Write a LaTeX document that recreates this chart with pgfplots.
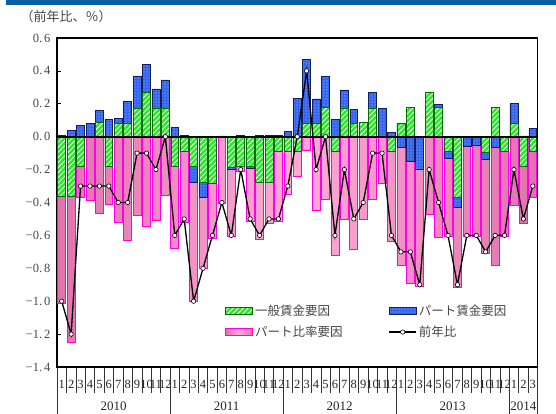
\documentclass[border=0pt]{standalone}
\usepackage{fontspec}
\setmainfont{Liberation Serif}
\newfontfamily\jp{Noto Sans CJK JP}
\usepackage{pgfplots}
\pgfplotsset{compat=1.18}
\usepackage{pgfplotstable}
\usetikzlibrary{patterns.meta}

\definecolor{gfill}{RGB}{40,230,40}
\definecolor{gedge}{RGB}{0,110,0}
\definecolor{bfill}{RGB}{50,100,240}
\definecolor{bedge}{RGB}{20,30,90}
\definecolor{pedge}{RGB}{255,0,230}
\definecolor{plight}{RGB}{255,170,215}
\definecolor{pdark}{RGB}{225,115,175}
\definecolor{band}{RGB}{10,94,168}
\definecolor{txt}{RGB}{70,70,70}

\pgfplotstableread{
i G B P L
0 -0.365 0.01 -0.65 -1.0
1 -0.365 0.04 -0.885 -1.2
2 -0.18 0.07 -0.19 -0.3
3 0.0 0.08 -0.385 -0.3
4 0.087 0.075 -0.466 -0.3
5 -0.18 0.105 -0.23 -0.3
6 0.08 0.03 -0.52 -0.4
7 0.08 0.135 -0.63 -0.4
8 0.17 0.2 -0.48 -0.1
9 0.27 0.17 -0.547 -0.1
10 0.17 0.12 -0.51 -0.2
11 0.17 0.175 -0.355 0.0
12 -0.18 0.057 -0.5 -0.6
13 -0.09 0.01 -0.43 -0.5
14 -0.18 -0.10 -0.72 -1.0
15 -0.28 -0.09 -0.43 -0.8
16 -0.285 0.0 -0.33 -0.6
17 0.0 0.005 -0.405 -0.4
18 -0.185 -0.015 -0.405 -0.6
19 -0.18 0.01 -0.03 -0.2
20 -0.18 -0.015 -0.32 -0.5
21 -0.275 0.01 -0.35 -0.6
22 -0.275 0.01 -0.25 -0.5
23 -0.09 0.01 -0.425 -0.5
24 -0.09 0.03 -0.26 -0.3
25 -0.09 0.235 -0.15 0.0
26 0.08 0.39 -0.08 0.4
27 0.08 0.15 -0.445 -0.2
28 0.18 0.185 -0.38 0.0
29 -0.09 0.105 -0.63 -0.6
30 0.17 0.115 -0.50 -0.2
31 0.08 0.087 -0.685 -0.5
32 0.085 0.0 -0.50 -0.4
33 0.17 0.097 -0.38 -0.1
34 0.0 0.17 -0.285 -0.1
35 -0.09 0.025 -0.547 -0.6
36 0.08 -0.065 -0.72 -0.7
37 0.18 -0.15 -0.74 -0.7
38 0.0 -0.2 -0.71 -0.9
39 0.27 0.0 -0.47 -0.2
40 0.18 0.018 -0.61 -0.4
41 -0.09 -0.04 -0.475 -0.6
42 -0.37 -0.06 -0.485 -0.9
43 0.0 -0.057 -0.55 -0.6
44 0.0 -0.05 -0.557 -0.6
45 -0.095 -0.04 -0.577 -0.7
46 0.18 -0.065 -0.72 -0.6
47 -0.09 0.0 -0.517 -0.6
48 0.08 0.12 -0.42 -0.2
49 -0.18 0.005 -0.345 -0.5
50 -0.09 0.05 -0.28 -0.3
}\data

\pgfplotsset{
  greenbar/.style={fill=gfill, draw=gedge, line width=0.6pt,
    postaction={pattern={Lines[angle=45,distance=3.6pt,line width=0.9pt]}, pattern color=white}},
  bluebar/.style={fill=bfill, draw=bedge, line width=0.6pt,
    postaction={pattern={Dots[distance=3pt,radius=0.55pt]}, pattern color=white!55!bfill}},
  pinkbar/.style={left color=pdark, right color=pdark, middle color=plight, draw=pedge, line width=0.7pt},
  legbar/.style={legend image code/.code={\draw[##1] (0pt,-3.5pt) rectangle (27pt,3.5pt);}},
  legline/.style={legend image code/.code={\draw[##1] (0pt,0pt) -- (27pt,0pt);
      \draw[##1, only marks] plot coordinates {(13.5pt,0pt)};}},
  mybar/.style={ybar, bar width=0.84, bar shift=0pt, forget plot},
  common/.style={at={(57pt,47pt)}, anchor=south west, scale only axis,
    width=480.5pt, height=329pt, xmin=0, xmax=51},
}

\begin{document}
\begin{tikzpicture}
\useasboundingbox (0,0) rectangle (556pt,414pt);
\fill[band] (6pt,409pt) rectangle (556pt,414pt);
\node[anchor=west, font=\jp\fontsize{13}{13}\selectfont, text=txt] at (17pt,397pt) {（前年比、％）};

% month separators and labels
\begin{axis}[common, ymin=0, ymax=1, ytick=\empty, axis line style={draw=none},
  xtick pos=bottom, tick align=outside,
  xtick={0.5,1.5,...,50.5},
  xticklabels={1,2,3,4,5,6,7,8,9,10,11,12,1,2,3,4,5,6,7,8,9,10,11,12,1,2,3,4,5,6,7,8,9,10,11,12,1,2,3,4,5,6,7,8,9,10,11,12,1,2,3},
  major tick length=0pt,
  minor xtick={0,...,51}, minor tick length=26pt,
  minor tick style={black!80, line width=0.5pt},
  xticklabel style={anchor=center, yshift=-17pt, font=\fontsize{12.5}{13}\selectfont, text=black!85, inner sep=0pt},
]
\addplot[draw=none, forget plot] coordinates {(0,0)};
\end{axis}

% year separators and labels
\begin{axis}[common, ymin=0, ymax=1, ytick=\empty, axis line style={draw=none},
  xtick pos=bottom, tick align=outside,
  xtick={6,18,30,42,49.5},
  xticklabels={2010,2011,2012,2013,2014},
  major tick length=0pt,
  extra x ticks={0,12,24,36,48,51}, extra x tick labels={},
  extra x tick style={major tick length=47pt, tick style={black!80, line width=0.6pt}},
  xticklabel style={anchor=center, yshift=-39pt, font=\fontsize{13}{13}\selectfont, text=black!85, inner sep=0pt},
]
\addplot[draw=none, forget plot] coordinates {(0,0)};
\end{axis}

% main chart
\begin{axis}[common, ymin=-1.4, ymax=0.6,
  xtick=\empty,
  ytick={-1.4,-1.2,-1,-0.8,-0.6,-0.4,-0.2,0,0.2,0.4,0.6},
  yticklabels={−1.\,4,−1.\,2,−1.\,0,−0.\,8,−0.\,6,−0.\,4,−0.\,2,0.\,0,0.\,2,0.\,4,0.\,6},
  ytick pos=left, tick align=inside, major tick length=4pt,
  tick style={black, line width=0.6pt},
  axis line style={line width=1.8pt},
  yticklabel style={font=\fontsize{12.5}{13}\selectfont, text=txt, xshift=-3pt},
  legend columns=2, legend cell align=left,
  legend style={at={(0.35,0.195)}, anchor=north west, draw=none, fill=none, inner sep=0pt,
    font=\jp\fontsize{12.5}{13}\selectfont, text=txt,
    /tikz/every even column/.append style={column sep=44pt}, row sep=5pt},
]
\addlegendimage{legbar, greenbar}
\addlegendentry{一般賃金要因}
\addlegendimage{legbar, bluebar}
\addlegendentry{パート賃金要因}
\addlegendimage{legbar, pinkbar}
\addlegendentry{パート比率要因}

\addplot[mybar, bluebar] table[x expr=\thisrow{i}+0.5, y expr={max(\thisrow{G},0)+max(\thisrow{B},0)}] {\data};
\addplot[mybar, greenbar] table[x expr=\thisrow{i}+0.5, y expr={max(\thisrow{G},0)}] {\data};
\addplot[mybar, pinkbar] table[x expr=\thisrow{i}+0.5, y expr={min(\thisrow{G},0)+min(\thisrow{B},0)+\thisrow{P}}] {\data};
\addplot[mybar, bluebar] table[x expr=\thisrow{i}+0.5, y expr={min(\thisrow{G},0)+min(\thisrow{B},0)}] {\data};
\addplot[mybar, greenbar] table[x expr=\thisrow{i}+0.5, y expr={min(\thisrow{G},0)}] {\data};
\addplot[black, line width=1.8pt, forget plot] coordinates {(0,0) (51,0)};

\addplot[legline, black, line width=1.3pt, mark=*, mark size=2.2pt,
  mark options={fill=white, draw=black, line width=0.6pt}]
  table[x expr=\thisrow{i}+0.5, y=L] {\data};
\addlegendentry{前年比}
\end{axis}
\end{tikzpicture}
\end{document}
